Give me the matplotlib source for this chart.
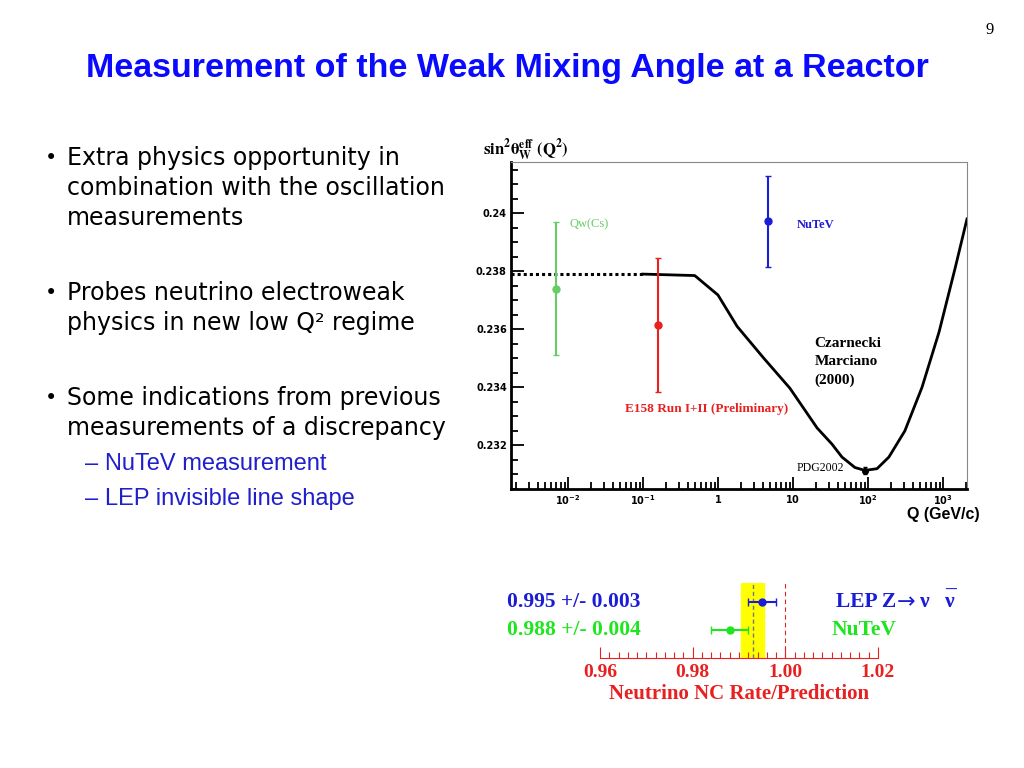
import matplotlib
matplotlib.use("Agg")
import matplotlib.pyplot as plt
from matplotlib.ticker import FixedLocator, FixedFormatter, MultipleLocator, NullFormatter

# ---- data ----
# Czarnecki-Marciano running of sin^2(theta_W) vs Q (GeV)
curve_q = [0.1, 0.49, 1.0, 1.8, 4.0, 9.1, 21.0, 33.0, 45.0, 67.0, 91.0, 132.0,
           190.0, 310.0, 525.0, 885.0, 1450.0, 2090.0]
curve_s = [0.2379, 0.23785, 0.23718, 0.2361, 0.23503, 0.23397, 0.2326, 0.23205,
           0.2316, 0.23124, 0.23114, 0.2312, 0.2316, 0.2325, 0.2340, 0.2359,
           0.2381, 0.2398]
dotted_q = [0.00174, 0.1]
dotted_s = [0.2379, 0.2379]

exp_names = ["Qw(Cs)", "E158 Run I+II (Preliminary)", "NuTeV"]
exp_q = [0.0069, 0.16, 4.6]
exp_s = [0.2374, 0.23614, 0.23972]
exp_err = [0.0023, 0.0023, 0.00156]
exp_colors = ["#66cc66", "#e8201f", "#1c1cd6"]

pdg_q = [91.19]
pdg_s = [0.23113]
pdg_err = [0.00012]

# neutrino NC rate / prediction
nc_labels = ["LEP", "NuTeV"]
nc_values = [0.995, 0.988]
nc_errors = [0.003, 0.004]
nc_colors = ["#1c1cd6", "#1ee61e"]
band_lo, band_hi, band_mid = 0.9905, 0.9953, 0.993

fig = plt.figure(figsize=(10.24, 7.68), dpi=100)

# ---- slide text ----
fig.text(0.962, 0.961, "9", fontsize=12, family="Liberation Serif", ha="left", va="center")
fig.text(0.496, 0.911, "Measurement of the Weak Mixing Angle at a Reactor",
         fontsize=24.5, fontweight="bold", color="#0a0aff", family="Liberation Sans",
         ha="center", va="center")

bullets = [
    (158, ["Extra physics opportunity in", "combination with the oscillation", "measurements"]),
    (293, ["Probes neutrino electroweak", "physics in new low Q² regime"]),
    (398, ["Some indications from previous", "measurements of a discrepancy"]),
]
for y0, lines in bullets:
    fig.text(45 / 1024, 1 - y0 / 768, "•", fontsize=15, ha="left", va="center")
    for i, line in enumerate(lines):
        fig.text(67 / 1024, 1 - (y0 + 30 * i) / 768, line, fontsize=17,
                 family="DejaVu Sans", ha="left", va="center")

for y0, line in [(464, "NuTeV measurement"), (499, "LEP invisible line shape")]:
    fig.text(85 / 1024, 1 - y0 / 768, "–", fontsize=17, color="#1f1fcc",
             family="Liberation Sans", ha="left", va="center")
    fig.text(105 / 1024, 1 - y0 / 768, line, fontsize=17, color="#1f1fcc",
             family="Liberation Sans", ha="left", va="center")

# ---- main plot ----
ax = fig.add_axes([511 / 1024, 1 - 489 / 768, 456 / 1024, 327 / 768])
ax.set_xscale("log")
ax.plot(dotted_q, dotted_s, color="black", lw=2.2, ls=(0, (1, 1)))
ax.plot(curve_q, curve_s, color="black", lw=2.0)
for q, s, e, c in zip(exp_q, exp_s, exp_err, exp_colors):
    ax.errorbar([q], [s], yerr=[e], fmt="o", color=c, ms=5, lw=1.5, capsize=2)
ax.errorbar(pdg_q, pdg_s, yerr=pdg_err, fmt="o", color="black", ms=4, lw=1.5, capsize=1.5)

ax.set_xlim(0.00174, 2090)
ax.set_ylim(0.2305, 0.24176)

ax.yaxis.set_major_locator(FixedLocator([0.232, 0.234, 0.236, 0.238, 0.240]))
ax.yaxis.set_major_formatter(FixedFormatter(["0.232", "0.234", "0.236", "0.238", "0.24"]))
ax.yaxis.set_minor_locator(MultipleLocator(0.0005))
xt = [0.01, 0.1, 1, 10, 100, 1000]
ax.xaxis.set_major_locator(FixedLocator(xt))
ax.xaxis.set_major_formatter(FixedFormatter([r"$\mathbf{10^{-2}}$", r"$\mathbf{10^{-1}}$",
                                              r"$\mathbf{1}$", r"$\mathbf{10}$",
                                              r"$\mathbf{10^{2}}$", r"$\mathbf{10^{3}}$"]))
minors = [m * 10.0 ** d for d in range(-3, 4) for m in range(2, 10)]
ax.xaxis.set_minor_locator(FixedLocator(minors))
ax.xaxis.set_minor_formatter(NullFormatter())
ax.tick_params(which="both", direction="in", top=False, right=False, width=1.3)
ax.tick_params(which="major", length=9, labelsize=7, pad=3)
ax.tick_params(which="minor", length=5)
for lab in ax.get_yticklabels():
    lab.set_fontweight("bold")
ax.spines["left"].set_linewidth(2)
ax.spines["bottom"].set_linewidth(2)
for side in ("top", "right"):
    ax.spines[side].set_color("#888888")
    ax.spines[side].set_linewidth(0.8)

ax.text(0.0106, 0.2396, exp_names[0], color=exp_colors[0], fontsize=9,
        family="Liberation Serif", va="center")
ax.text(11.3, 0.2396, exp_names[2], color=exp_colors[2], fontsize=9, fontweight="bold",
        family="Liberation Serif", va="center")
ax.text(0.0575, 0.23324, exp_names[1], color=exp_colors[1], fontsize=9.5, fontweight="bold",
        family="Liberation Serif", va="center")
ax.text(19.5, 0.23575, "Czarnecki\nMarciano\n(2000)", color="black", fontsize=11,
        fontweight="bold", family="Liberation Serif", va="top", linespacing=1.55)
ax.text(11.3, 0.23121, "PDG2002", color="black", fontsize=8.5,
        family="Liberation Serif", va="center")

fig.text(483 / 1024, 1 - 150 / 768, r"$\mathbf{sin^2\theta_W^{eff}\ (Q^2)}$",
         math_fontfamily="stix", fontsize=12, ha="left", va="center")
fig.text(980 / 1024, 1 - 515 / 768, "Q (GeV/c)", fontsize=11.5, fontweight="bold",
         family="Liberation Sans", ha="right", va="center")

# ---- NC rate panel ----
red = "#e8201f"
bx = fig.add_axes([600 / 1024, 1 - 658 / 768, 278 / 1024, 75 / 768])
bx.axvspan(band_lo, band_hi, color="#ffff00", zorder=0)
bx.axvline(band_mid, color="#777777", lw=1, ls=(0, (3, 2)))
bx.axvline(1.0, color=red, lw=0.8, ls=(0, (4, 3)))
nc_y = [0.747, 0.373]
for v, e, c, y in zip(nc_values, nc_errors, nc_colors, nc_y):
    bx.errorbar([v], [y], xerr=[e], fmt="o", color=c, ms=5, lw=1.5, capsize=3)
bx.set_xlim(0.96, 1.02)
bx.set_ylim(0, 1)
bx.set_yticks([])
for side in ("left", "right", "top"):
    bx.spines[side].set_visible(False)
bx.spines["bottom"].set_color(red)
bx.spines["bottom"].set_linewidth(0.8)
bx.xaxis.set_major_locator(FixedLocator([0.96, 0.98, 1.00, 1.02]))
bx.xaxis.set_major_formatter(FixedFormatter(["0.96", "0.98", "1.00", "1.02"]))
bx.xaxis.set_minor_locator(MultipleLocator(0.002))
bx.tick_params(which="both", direction="in", color=red, width=0.8)
bx.tick_params(which="major", length=8, labelsize=14, labelcolor=red, pad=4)
bx.tick_params(which="minor", length=4)
for lab in bx.get_xticklabels():
    lab.set_fontweight("bold")
    lab.set_family("Liberation Serif")
fig.text(739 / 1024, 1 - 694 / 768, "Neutrino NC Rate/Prediction", color=red, fontsize=15,
         fontweight="bold", family="Liberation Serif", ha="center", va="center")

# text positions: x in axes fraction of the panel, y in data
tr = bx.get_yaxis_transform()
serif = ["Liberation Serif", "DejaVu Serif"]
for v, e, c, y in zip(nc_values, nc_errors, nc_colors, nc_y):
    bx.text(-0.3345, y, f"{v:.3f} +/- {e:.3f}", color=c, fontsize=15.5, fontweight="bold",
            family=serif, ha="left", va="center", transform=tr)
bx.text(0.849, nc_y[0], "LEP Z", color=nc_colors[0], fontsize=15.5, fontweight="bold",
        family=serif, ha="left", va="center", transform=tr)
bx.text(1.067, nc_y[0], "→", color=nc_colors[0], fontsize=16,
        family="DejaVu Sans", ha="left", va="center", transform=tr)
bx.text(1.150, nc_y[0], "ν", color=nc_colors[0], fontsize=15.5, fontweight="bold",
        family=serif, ha="left", va="center", transform=tr)
bx.text(1.241, nc_y[0], "ν", color=nc_colors[0], fontsize=15.5, fontweight="bold",
        family=serif, ha="left", va="center", transform=tr)
bx.text(1.241, nc_y[0] + 0.03, "¯", color=nc_colors[0], fontsize=15.5, fontweight="bold",
        family=serif, ha="left", va="center", transform=tr)
bx.text(0.8345, nc_y[1], "NuTeV", color=nc_colors[1], fontsize=15.5, fontweight="bold",
        family=serif, ha="left", va="center", transform=tr)

fig.savefig("out.png", dpi=100)
plt.close("all")
